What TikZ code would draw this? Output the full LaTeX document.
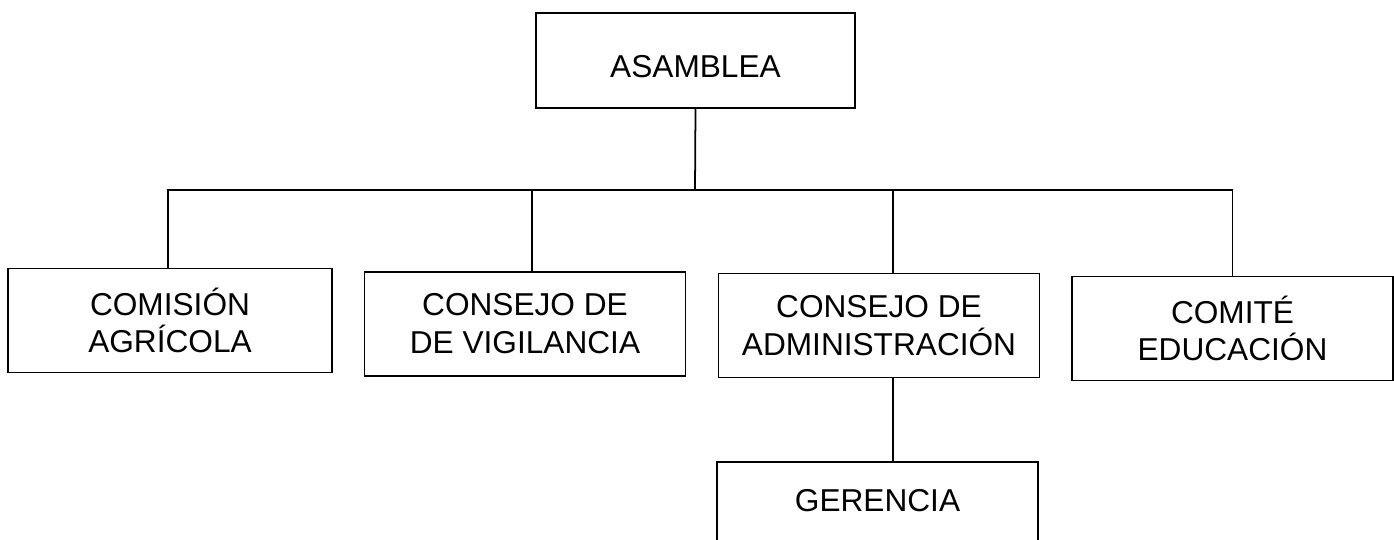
\documentclass[tikz,border=0pt]{standalone}
\usepackage{fontspec}
\setmainfont{Liberation Sans}
\usepackage{tikz}
\usetikzlibrary{positioning}

\begin{document}
\begin{tikzpicture}[
		unidad/.style={draw, line width=1pt, align=center, inner sep=0pt,
			font=\fontsize{18}{21.5}\selectfont, minimum width=6.42cm, minimum height=2.08cm},
		linea/.style={draw, line width=1pt}
	]
	\useasboundingbox (0,0) rectangle (27.88,-10.8);
	\node[unidad, minimum width=6.38cm, minimum height=1.9cm, text height=0.70cm, text depth=0pt] (asam) at (13.91,-1.21) {ASAMBLEA};
	\node[unidad, minimum width=6.48cm] (com) at (3.40,-6.41) {COMISIÓN\\AGRÍCOLA};
	\node[unidad] (vig) at (10.50,-6.48) {CONSEJO DE\\DE VIGILANCIA};
	\node[unidad] (adm) at (17.58,-6.51) {CONSEJO DE\\ADMINISTRACIÓN};
	\node[unidad] (edu) at (24.65,-6.57) {COMITÉ\\EDUCACIÓN};
	\node[unidad, minimum height=2.1cm, text height=0.455cm, text depth=0.56cm] (ger) at (17.55,-10.29) {GERENCIA};
	\coordinate (bar) at (13.90,-3.80);
	% conectores
	\draw[linea] (asam.south) -- (bar);
	\draw[linea] ([xshift=-0.04cm]com.north) |- (bar);
	\draw[linea] ([xshift=0.14cm]vig.north) |- (bar);
	\draw[linea] ([xshift=0.28cm]adm.north) |- (bar);
	\draw[linea] (edu.north) |- (bar);
	\draw[linea] ([xshift=0.28cm]adm.south) -- ([xshift=0.28cm]adm.south |- ger.north);
\end{tikzpicture}
\end{document}
